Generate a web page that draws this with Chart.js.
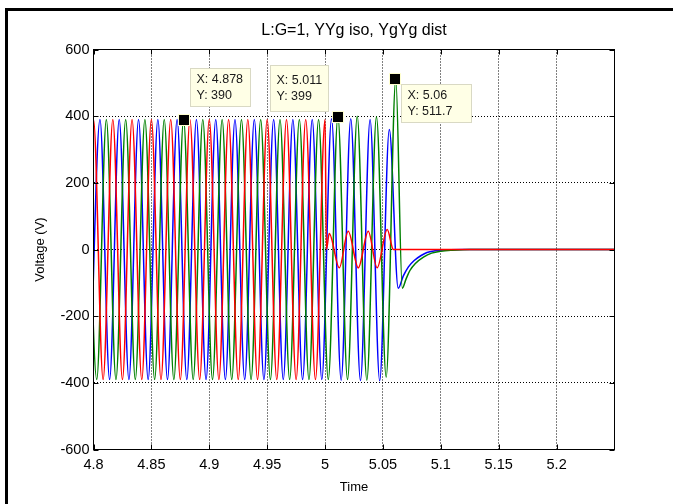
<!DOCTYPE html>
<html>
<head>
<meta charset="utf-8">
<script src="https://cdn.jsdelivr.net/npm/chart.js@4.4.1/dist/chart.umd.min.js"></script>
<style>
  html, body { margin: 0; padding: 0; background: #fff; }
  canvas { display: block; }
</style>
</head>
<body>
<canvas id="voltChart" width="673" height="504"></canvas>
<script>
const chartTitle = "L:G=1, YYg iso, YgYg dist";
const xTicks = [4.8, 4.85, 4.9, 4.95, 5.0, 5.05, 5.1, 5.15, 5.2];
const xTickLabels = ["4.8", "4.85", "4.9", "4.95", "5", "5.05", "5.1", "5.15", "5.2"];
const yTicks = [-600, -400, -200, 0, 200, 400, 600];

// phase A (red): peaks and troughs
const redT = [4.7917, 4.8000, 4.8083, 4.8167, 4.8250, 4.8333, 4.8417, 4.8500, 4.8583,
  4.8667, 4.8750, 4.8833, 4.8917, 4.9000, 4.9083, 4.9167, 4.9250, 4.9333, 4.9417,
  4.9500, 4.9583, 4.9667, 4.9750, 4.9833, 4.9917, 5.0000, 5.0012, 5.0036, 5.0123,
  5.0200, 5.0287, 5.0373, 5.0450, 5.0537, 5.0590, 5.2500];
const redV = [-390, 390, -390, 390, -390, 390, -390, 390, -390,
  390, -390, 390, -390, 390, -390, 390, -390, 390, -390,
  390, -390, 390, -390, 390, -390, 390, 0, 48, -55,
  55, -55, 55, -55, 60, 0, 0];

// phase B (blue)
const blueT = [4.7972, 4.8056, 4.8139, 4.8222, 4.8306, 4.8389, 4.8472, 4.8556, 4.8639,
  4.8722, 4.8806, 4.8889, 4.8972, 4.9056, 4.9139, 4.9222, 4.9306, 4.9389, 4.9472,
  4.9556, 4.9639, 4.9722, 4.9806, 4.9889, 4.9972, 5.0056, 5.0139, 5.0222, 5.0306,
  5.0389, 5.0472, 5.0555, 5.0632, 5.0675, 5.0720, 5.0770, 5.0830, 5.0880, 5.0950,
  5.1050, 5.1200, 5.2500];
const blueV = [-390, 390, -390, 390, -390, 390, -390, 390, -390,
  390, -390, 390, -390, 390, -390, 390, -390, 390, -390,
  390, -390, 390, -390, 390, -390, 392, -392, 392, -393,
  390, -394, 360, -116, -80, -52, -33, -18, -9, -4,
  -1, 0, 0];

// phase C (green)
const greenT = [4.7944, 4.8028, 4.8111, 4.8194, 4.8278, 4.8361, 4.8444, 4.8528, 4.8611,
  4.8694, 4.8778, 4.8861, 4.8944, 4.9028, 4.9111, 4.9194, 4.9278, 4.9361, 4.9444,
  4.9528, 4.9611, 4.9694, 4.9778, 4.9861, 4.9944, 5.0028, 5.0111, 5.0194, 5.0278,
  5.0361, 5.0444, 5.0528, 5.0611, 5.0667, 5.0700, 5.0733, 5.0780, 5.0850, 5.0920,
  5.1000, 5.1100, 5.1250, 5.2500];
const greenV = [390, -390, 390, -390, 390, -390, 390, -390, 390,
  -390, 390, -390, 390, -390, 390, -390, 390, -390, 390,
  -390, 390, -390, 390, -390, 390, -390, 399, -390, 400,
  -392, 398, -383, 511.7, -116, -88, -63, -42, -23, -11,
  -5, -2, 0, 0];

// data tips shown on the figure
const tipX = [4.878, 5.011, 5.06];
const tipY = [390, 399, 511.7];

function pairs(ts, vs) {
  return ts.map((t, i) => ({ x: t, y: vs[i] }));
}

const FONT = "'Liberation Sans', Arial, sans-serif";

// figure frame, title, axes box, inward ticks and data tips
const matlabLook = {
  id: "matlabLook",
  afterDatasetsDraw(chart, args, opts) {
    const { ctx, chartArea: a, scales } = chart;
    ctx.save();
    ctx.strokeStyle = "#000";
    ctx.lineWidth = 1;
    ctx.strokeRect(a.left, a.top, a.right - a.left, a.bottom - a.top);
    ctx.beginPath();
    xTicks.forEach((v) => {
      const x = Math.round(scales.x.getPixelForValue(v)) + 0.5;
      ctx.moveTo(x, a.bottom); ctx.lineTo(x, a.bottom - 5);
      ctx.moveTo(x, a.top); ctx.lineTo(x, a.top + 5);
    });
    yTicks.forEach((v) => {
      const y = Math.round(scales.y.getPixelForValue(v)) + 0.5;
      ctx.moveTo(a.left, y); ctx.lineTo(a.left + 5, y);
      ctx.moveTo(a.right, y); ctx.lineTo(a.right - 5, y);
    });
    ctx.stroke();

    // title centred over the axes
    ctx.fillStyle = "#000";
    ctx.font = "16px " + FONT;
    ctx.textAlign = "center";
    ctx.textBaseline = "middle";
    ctx.fillText(chartTitle, (a.left + a.right) / 2, 31);

    // data tips
    ctx.font = "12.5px " + FONT;
    ctx.textAlign = "left";
    tipX.forEach((tx, i) => {
      const mx = scales.x.getPixelForValue(tx);
      const my = scales.y.getPixelForValue(tipY[i]);
      const b = opts.boxes[i];
      const bx = Math.round(mx + b.dx) + 0.5;
      const by = Math.round(my + b.dy) + 0.5;
      ctx.fillStyle = "#ffffe6";
      ctx.strokeStyle = "#d9d9c4";
      ctx.fillRect(bx, by, b.w, b.h);
      ctx.strokeRect(bx, by, b.w, b.h);
      ctx.fillStyle = "#1a1a1a";
      ctx.fillText("X: " + tx, bx + 6, by + b.h / 2 - 8);
      ctx.fillText("Y: " + tipY[i], bx + 6, by + b.h / 2 + 8.5);
      ctx.fillStyle = "#ffffd0";
      ctx.fillRect(Math.round(mx) - 6, Math.round(my) - 6, 12, 12);
      ctx.fillStyle = "#000";
      ctx.fillRect(Math.round(mx) - 5, Math.round(my) - 5, 10, 10);
    });

    // outer figure frame (cropped: only top and left show)
    ctx.fillStyle = "#000";
    ctx.fillRect(5, 8, 3, chart.height - 8);
    ctx.fillRect(5, 8, chart.width - 5, 3);
    ctx.restore();
  }
};

const lineOpts = {
  borderWidth: 1.5,
  pointRadius: 0,
  cubicInterpolationMode: "monotone",
  fill: false
};

new Chart(document.getElementById("voltChart"), {
  type: "line",
  data: {
    // lowest order is painted last, so red sits on top
    datasets: [
      { ...lineOpts, label: "Vb", data: pairs(blueT, blueV), borderColor: "#0000ff", order: 2 },
      { ...lineOpts, label: "Vc", data: pairs(greenT, greenV), borderColor: "#008000", order: 1 },
      { ...lineOpts, label: "Va", data: pairs(redT, redV), borderColor: "#ff0000", order: 0 }
    ]
  },
  options: {
    responsive: false,
    animation: false,
    layout: { padding: { left: 0, right: 58.5, top: 49.5, bottom: 0 } },
    plugins: {
      legend: { display: false },
      tooltip: { enabled: false },
      title: { display: false },
      matlabLook: {
        boxes: [
          { dx: 6, dy: -52, w: 60, h: 38 },
          { dx: -68, dy: -52, w: 58, h: 46 },
          { dx: 6, dy: 5, w: 70, h: 38 }
        ]
      }
    },
    scales: {
      x: {
        type: "linear",
        min: 4.8,
        max: 5.25,
        afterBuildTicks: (s) => { s.ticks = xTicks.map((v) => ({ value: v })); },
        afterFit: (s) => { s.height = 54.5; },
        ticks: {
          color: "#000",
          padding: 7,
          maxRotation: 0,
          font: { family: FONT, size: 14.5 },
          callback: (v, i) => xTickLabels[i]
        },
        grid: { color: "#000", lineWidth: 1, drawTicks: false },
        border: { display: false, dash: [1, 2] },
        title: {
          display: true,
          text: "Time",
          color: "#000",
          font: { family: FONT, size: 13 },
          padding: { top: 0, bottom: 8.6 }
        }
      },
      y: {
        min: -600,
        max: 600,
        afterBuildTicks: (s) => { s.ticks = yTicks.map((v) => ({ value: v })); },
        afterFit: (s) => { s.width = 93.5; },
        ticks: {
          color: "#000",
          padding: 4,
          font: { family: FONT, size: 14.5 }
        },
        grid: { color: "#000", lineWidth: 1, drawTicks: false },
        border: { display: false, dash: [1, 2] },
        title: {
          display: true,
          text: "Voltage (V)",
          color: "#000",
          font: { family: FONT, size: 13 },
          padding: { top: 32.6, bottom: 0 }
        }
      }
    }
  },
  plugins: [matlabLook]
});
</script>
</body>
</html>
